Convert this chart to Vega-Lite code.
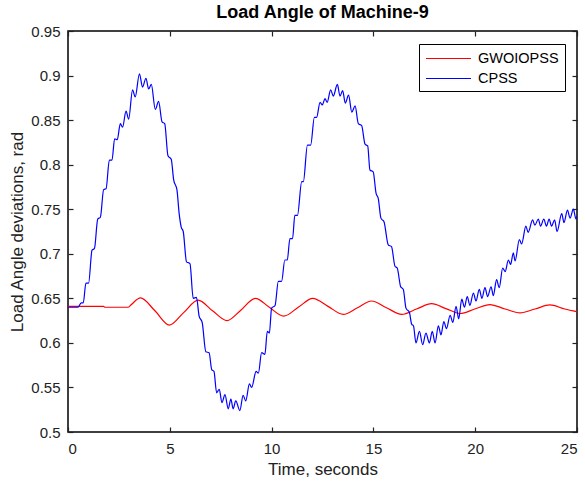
{
  "$schema": "https://vega.github.io/schema/vega-lite/v6.json",
  "width": 509,
  "height": 401,
  "autosize": {"type": "none"},
  "padding": {"left": 68, "top": 31, "right": 8, "bottom": 55},
  "background": "white",
  "title": {"text": "Load Angle of Machine-9", "font": "Liberation Sans", "fontSize": 18, "fontWeight": "bold", "color": "black", "offset": 2, "anchor": "middle"},
  "config": {
    "view": {"stroke": "black", "strokeWidth": 1.5},
    "axis": {"labelFont": "Liberation Sans", "titleFont": "Liberation Sans", "labelColor": "#222", "titleColor": "#222", "labelFontSize": 15, "titleFontSize": 17, "titleFontWeight": "normal", "grid": false, "domain": false, "tickColor": "#222", "tickWidth": 1.2, "tickSize": -5}
  },
  "data": {"values": [
    {"s":"GWOIOPSS","t":0,"v":0.641},{"s":"GWOIOPSS","t":1.75,"v":0.641},{"s":"GWOIOPSS","t":1.81,"v":0.640},{"s":"GWOIOPSS","t":2.96,"v":0.640},{"s":"GWOIOPSS","t":3.11,"v":0.643},{"s":"GWOIOPSS","t":3.56,"v":0.6505},{"s":"GWOIOPSS","t":4.27,"v":0.636},{"s":"GWOIOPSS","t":4.98,"v":0.620},{"s":"GWOIOPSS","t":5.68,"v":0.634},{"s":"GWOIOPSS","t":6.39,"v":0.648},{"s":"GWOIOPSS","t":7.10,"v":0.636},{"s":"GWOIOPSS","t":7.81,"v":0.625},{"s":"GWOIOPSS","t":8.50,"v":0.637},{"s":"GWOIOPSS","t":9.20,"v":0.650},{"s":"GWOIOPSS","t":9.89,"v":0.640},{"s":"GWOIOPSS","t":10.59,"v":0.630},{"s":"GWOIOPSS","t":11.31,"v":0.640},{"s":"GWOIOPSS","t":12.02,"v":0.650},{"s":"GWOIOPSS","t":12.77,"v":0.641},{"s":"GWOIOPSS","t":13.52,"v":0.632},{"s":"GWOIOPSS","t":14.22,"v":0.6395},{"s":"GWOIOPSS","t":14.91,"v":0.647},{"s":"GWOIOPSS","t":15.64,"v":0.6395},{"s":"GWOIOPSS","t":16.39,"v":0.632},{"s":"GWOIOPSS","t":17.12,"v":0.638},{"s":"GWOIOPSS","t":17.86,"v":0.644},{"s":"GWOIOPSS","t":18.56,"v":0.6385},{"s":"GWOIOPSS","t":19.26,"v":0.633},{"s":"GWOIOPSS","t":19.98,"v":0.638},{"s":"GWOIOPSS","t":20.72,"v":0.643},{"s":"GWOIOPSS","t":21.47,"v":0.638},{"s":"GWOIOPSS","t":22.20,"v":0.6337},{"s":"GWOIOPSS","t":22.94,"v":0.638},{"s":"GWOIOPSS","t":23.67,"v":0.6426},{"s":"GWOIOPSS","t":24.40,"v":0.638},{"s":"GWOIOPSS","t":25,"v":0.635},
    {"s":"CPSS","t":0,"v":0.640},{"s":"CPSS","t":0.49,"v":0.640},{"s":"CPSS","t":0.65,"v":0.645},{"s":"CPSS","t":0.75,"v":0.645},{"s":"CPSS","t":0.88,"v":0.667},{"s":"CPSS","t":1.01,"v":0.667},{"s":"CPSS","t":1.18,"v":0.704},{"s":"CPSS","t":1.30,"v":0.706},{"s":"CPSS","t":1.46,"v":0.739},{"s":"CPSS","t":1.59,"v":0.741},{"s":"CPSS","t":1.75,"v":0.772},{"s":"CPSS","t":1.87,"v":0.773},{"s":"CPSS","t":2.03,"v":0.805},{"s":"CPSS","t":2.16,"v":0.805},{"s":"CPSS","t":2.29,"v":0.829},{"s":"CPSS","t":2.42,"v":0.828},{"s":"CPSS","t":2.57,"v":0.846},{"s":"CPSS","t":2.68,"v":0.842},{"s":"CPSS","t":2.85,"v":0.860},{"s":"CPSS","t":2.98,"v":0.851},{"s":"CPSS","t":3.17,"v":0.884},{"s":"CPSS","t":3.30,"v":0.876},{"s":"CPSS","t":3.51,"v":0.902},{"s":"CPSS","t":3.66,"v":0.887},{"s":"CPSS","t":3.83,"v":0.897},{"s":"CPSS","t":3.96,"v":0.885},{"s":"CPSS","t":4.09,"v":0.890},{"s":"CPSS","t":4.29,"v":0.862},{"s":"CPSS","t":4.45,"v":0.871},{"s":"CPSS","t":4.62,"v":0.848},{"s":"CPSS","t":4.75,"v":0.846},{"s":"CPSS","t":4.91,"v":0.810},{"s":"CPSS","t":5.07,"v":0.806},{"s":"CPSS","t":5.19,"v":0.783},{"s":"CPSS","t":5.35,"v":0.772},{"s":"CPSS","t":5.46,"v":0.745},{"s":"CPSS","t":5.56,"v":0.730},{"s":"CPSS","t":5.66,"v":0.725},{"s":"CPSS","t":5.82,"v":0.691},{"s":"CPSS","t":5.99,"v":0.689},{"s":"CPSS","t":6.15,"v":0.650},{"s":"CPSS","t":6.31,"v":0.651},{"s":"CPSS","t":6.44,"v":0.630},{"s":"CPSS","t":6.59,"v":0.623},{"s":"CPSS","t":6.77,"v":0.590},{"s":"CPSS","t":6.93,"v":0.589},{"s":"CPSS","t":7.06,"v":0.570},{"s":"CPSS","t":7.17,"v":0.568},{"s":"CPSS","t":7.30,"v":0.544},{"s":"CPSS","t":7.43,"v":0.548},{"s":"CPSS","t":7.56,"v":0.533},{"s":"CPSS","t":7.71,"v":0.542},{"s":"CPSS","t":7.87,"v":0.526},{"s":"CPSS","t":8.00,"v":0.537},{"s":"CPSS","t":8.11,"v":0.526},{"s":"CPSS","t":8.24,"v":0.535},{"s":"CPSS","t":8.44,"v":0.524},{"s":"CPSS","t":8.60,"v":0.541},{"s":"CPSS","t":8.73,"v":0.535},{"s":"CPSS","t":8.91,"v":0.554},{"s":"CPSS","t":9.02,"v":0.550},{"s":"CPSS","t":9.24,"v":0.568},{"s":"CPSS","t":9.35,"v":0.566},{"s":"CPSS","t":9.51,"v":0.589},{"s":"CPSS","t":9.67,"v":0.587},{"s":"CPSS","t":9.79,"v":0.613},{"s":"CPSS","t":9.89,"v":0.611},{"s":"CPSS","t":10.0,"v":0.639},{"s":"CPSS","t":10.17,"v":0.642},{"s":"CPSS","t":10.33,"v":0.669},{"s":"CPSS","t":10.49,"v":0.669},{"s":"CPSS","t":10.65,"v":0.693},{"s":"CPSS","t":10.77,"v":0.693},{"s":"CPSS","t":10.90,"v":0.717},{"s":"CPSS","t":11.03,"v":0.717},{"s":"CPSS","t":11.14,"v":0.743},{"s":"CPSS","t":11.27,"v":0.743},{"s":"CPSS","t":11.48,"v":0.781},{"s":"CPSS","t":11.56,"v":0.781},{"s":"CPSS","t":11.76,"v":0.822},{"s":"CPSS","t":11.92,"v":0.822},{"s":"CPSS","t":12.10,"v":0.853},{"s":"CPSS","t":12.21,"v":0.853},{"s":"CPSS","t":12.38,"v":0.870},{"s":"CPSS","t":12.49,"v":0.867},{"s":"CPSS","t":12.62,"v":0.874},{"s":"CPSS","t":12.73,"v":0.870},{"s":"CPSS","t":12.90,"v":0.884},{"s":"CPSS","t":13.03,"v":0.877},{"s":"CPSS","t":13.23,"v":0.890},{"s":"CPSS","t":13.36,"v":0.877},{"s":"CPSS","t":13.49,"v":0.883},{"s":"CPSS","t":13.62,"v":0.869},{"s":"CPSS","t":13.78,"v":0.878},{"s":"CPSS","t":13.94,"v":0.859},{"s":"CPSS","t":14.10,"v":0.866},{"s":"CPSS","t":14.26,"v":0.846},{"s":"CPSS","t":14.42,"v":0.844},{"s":"CPSS","t":14.59,"v":0.823},{"s":"CPSS","t":14.72,"v":0.821},{"s":"CPSS","t":14.83,"v":0.794},{"s":"CPSS","t":14.99,"v":0.792},{"s":"CPSS","t":15.13,"v":0.768},{"s":"CPSS","t":15.24,"v":0.762},{"s":"CPSS","t":15.37,"v":0.740},{"s":"CPSS","t":15.52,"v":0.736},{"s":"CPSS","t":15.73,"v":0.710},{"s":"CPSS","t":15.89,"v":0.708},{"s":"CPSS","t":16.06,"v":0.686},{"s":"CPSS","t":16.17,"v":0.684},{"s":"CPSS","t":16.34,"v":0.663},{"s":"CPSS","t":16.47,"v":0.660},{"s":"CPSS","t":16.60,"v":0.639},{"s":"CPSS","t":16.77,"v":0.634},{"s":"CPSS","t":16.88,"v":0.621},{"s":"CPSS","t":16.97,"v":0.619},{"s":"CPSS","t":17.09,"v":0.600},{"s":"CPSS","t":17.26,"v":0.613},{"s":"CPSS","t":17.42,"v":0.598},{"s":"CPSS","t":17.58,"v":0.611},{"s":"CPSS","t":17.75,"v":0.600},{"s":"CPSS","t":17.89,"v":0.613},{"s":"CPSS","t":18.03,"v":0.600},{"s":"CPSS","t":18.19,"v":0.619},{"s":"CPSS","t":18.32,"v":0.609},{"s":"CPSS","t":18.46,"v":0.624},{"s":"CPSS","t":18.59,"v":0.616},{"s":"CPSS","t":18.77,"v":0.631},{"s":"CPSS","t":18.90,"v":0.623},{"s":"CPSS","t":19.06,"v":0.641},{"s":"CPSS","t":19.19,"v":0.627},{"s":"CPSS","t":19.34,"v":0.649},{"s":"CPSS","t":19.47,"v":0.640},{"s":"CPSS","t":19.61,"v":0.652},{"s":"CPSS","t":19.74,"v":0.642},{"s":"CPSS","t":19.91,"v":0.656},{"s":"CPSS","t":20.04,"v":0.647},{"s":"CPSS","t":20.20,"v":0.660},{"s":"CPSS","t":20.33,"v":0.650},{"s":"CPSS","t":20.48,"v":0.662},{"s":"CPSS","t":20.61,"v":0.652},{"s":"CPSS","t":20.78,"v":0.663},{"s":"CPSS","t":20.89,"v":0.653},{"s":"CPSS","t":21.05,"v":0.671},{"s":"CPSS","t":21.18,"v":0.662},{"s":"CPSS","t":21.35,"v":0.684},{"s":"CPSS","t":21.47,"v":0.680},{"s":"CPSS","t":21.63,"v":0.693},{"s":"CPSS","t":21.74,"v":0.688},{"s":"CPSS","t":21.87,"v":0.701},{"s":"CPSS","t":21.96,"v":0.692},{"s":"CPSS","t":22.17,"v":0.716},{"s":"CPSS","t":22.28,"v":0.711},{"s":"CPSS","t":22.49,"v":0.731},{"s":"CPSS","t":22.60,"v":0.724},{"s":"CPSS","t":22.82,"v":0.738},{"s":"CPSS","t":22.93,"v":0.732},{"s":"CPSS","t":23.10,"v":0.739},{"s":"CPSS","t":23.21,"v":0.731},{"s":"CPSS","t":23.37,"v":0.739},{"s":"CPSS","t":23.50,"v":0.731},{"s":"CPSS","t":23.63,"v":0.739},{"s":"CPSS","t":23.75,"v":0.731},{"s":"CPSS","t":23.90,"v":0.738},{"s":"CPSS","t":24.02,"v":0.725},{"s":"CPSS","t":24.25,"v":0.745},{"s":"CPSS","t":24.36,"v":0.735},{"s":"CPSS","t":24.53,"v":0.749},{"s":"CPSS","t":24.66,"v":0.740},{"s":"CPSS","t":24.82,"v":0.750},{"s":"CPSS","t":24.95,"v":0.739},{"s":"CPSS","t":25,"v":0.742}
  ]},
  "layer": [
    {
      "mark": {"type": "line", "strokeWidth": 1.2, "interpolate": "monotone", "clip": true},
      "encoding": {
        "x": {"field": "t", "type": "quantitative", "scale": {"domain": [0, 25], "nice": false, "zero": false}, "axis": {"orient": "bottom", "values": [0,5,10,15,20,25], "title": "Time, seconds", "labelPadding": 14, "titlePadding": 5}},
        "y": {"field": "v", "type": "quantitative", "scale": {"domain": [0.5, 0.95], "nice": false, "zero": false}, "axis": {"orient": "left", "values": [0.5,0.55,0.6,0.65,0.7,0.75,0.8,0.85,0.9,0.95], "format": ".2~f", "title": "Load Angle deviations, rad", "labelPadding": 13, "titlePadding": 4}},
        "color": {"field": "s", "type": "nominal", "sort": ["GWOIOPSS", "CPSS"], "scale": {"domain": ["GWOIOPSS", "CPSS"], "range": ["#ff0000", "#0000ff"]},
          "legend": {"title": null, "orient": "none", "legendX": 351, "legendY": 13, "strokeColor": "black", "fillColor": "white", "padding": 6, "labelFont": "Liberation Sans", "labelFontSize": 14.5, "labelColor": "black", "symbolType": "M-1,0H5", "symbolSize": 225, "symbolStrokeWidth": 1.2, "labelOffset": 36, "rowPadding": 5, "cornerRadius": 0}}
      }
    },
    {
      "mark": {"type": "line", "opacity": 0},
      "encoding": {
        "x": {"field": "t", "type": "quantitative", "axis": {"orient": "top", "values": [0,5,10,15,20,25], "labels": false, "title": null}},
        "y": {"field": "v", "type": "quantitative", "axis": {"orient": "right", "values": [0.5,0.55,0.6,0.65,0.7,0.75,0.8,0.85,0.9,0.95], "labels": false, "title": null}},
        "detail": {"field": "s"}
      }
    }
  ],
  "resolve": {"axis": {"x": "independent", "y": "independent"}}
}
